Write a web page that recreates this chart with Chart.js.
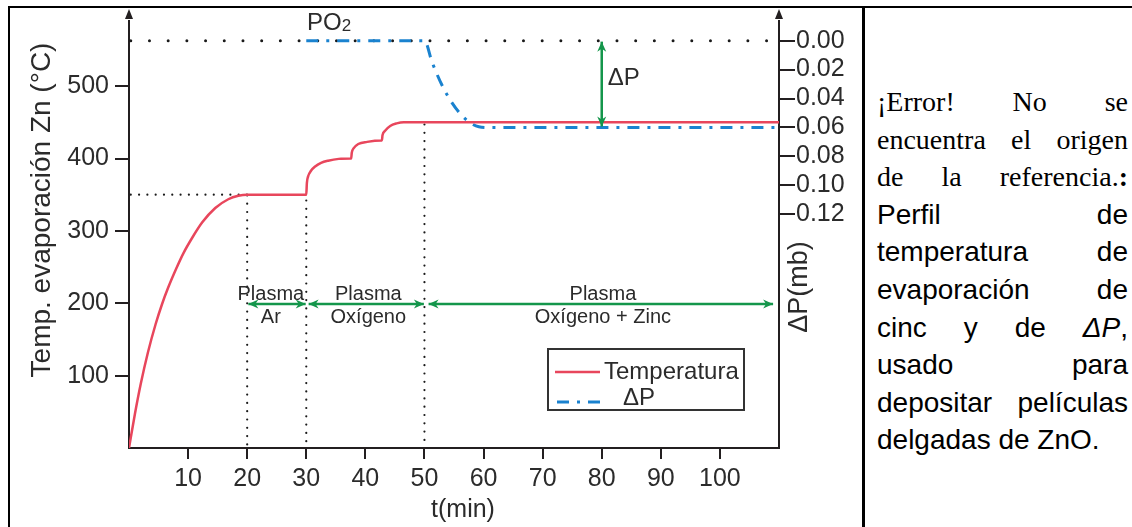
<!DOCTYPE html>
<html>
<head>
<meta charset="utf-8">
<script src="https://cdn.jsdelivr.net/npm/chart.js@4.4.1/dist/chart.umd.min.js"></script>
<style>
  body { margin: 0; background: #fff; }
  #wrap { position: relative; width: 1132px; height: 527px; overflow: hidden; background: #fff; }
  #c { position: absolute; left: 0; top: 0; }
  .rule { position: absolute; background: #000; }
  #cap { position: absolute; left: 877px; top: 83px; width: 251px; font-size: 28px; line-height: 37.6px; color: #000; }
  #cap .j { text-align: justify; text-align-last: justify; white-space: nowrap; }
  #cap .serif { font-family: "Liberation Serif", "Times New Roman", serif; }
  #cap .sans { font-family: "Liberation Sans", Arial, sans-serif; }
</style>
</head>
<body>
<div id="wrap">
  <canvas id="c" width="862" height="527"></canvas>
  <div class="rule" style="left:8px; top:6px; width:1124px; height:2px;"></div>
  <div class="rule" style="left:8px; top:6px; width:2px; height:521px;"></div>
  <div class="rule" style="left:862px; top:6px; width:2.5px; height:521px;"></div>
  <div id="cap">
    <div class="j serif">¡Error! No se</div>
    <div class="j serif">encuentra el origen</div>
    <div class="j serif">de la referencia.<b>:</b></div>
    <div class="j sans">Perfil de</div>
    <div class="j sans">temperatura de</div>
    <div class="j sans">evaporación de</div>
    <div class="j sans">cinc y de <i>ΔP</i>,</div>
    <div class="j sans">usado para</div>
    <div class="j sans">depositar películas</div>
    <div class="sans">delgadas de ZnO.</div>
  </div>
</div>
<script>
// temperatura del evaporador de Zn (°C) vs t (min)
const tempTime  = [0, 1, 2, 3.2, 4.5, 5.6, 6.6, 8, 9.2, 10.7, 12.4, 14.6, 16.8, 18.5, 20, 30,
                   30.1, 30.3, 30.8, 31.5, 32.5, 33.7, 35.5, 37.5, 37.6, 37.7, 38.0, 38.8, 40.3, 42.7,
                   42.8, 42.9, 43.3, 44.2, 45.3, 46.5, 110];
const tempValue = [0, 47, 89, 132, 171, 199, 221, 248, 269, 290.5, 311.8, 331.6, 343.7, 348.5, 350, 350,
                   366, 375, 383, 389, 394, 397, 399.5, 400, 400, 408, 414, 420, 423, 425,
                   425, 432, 438, 445, 448.5, 450, 450];
// ΔP (mb), eje derecho invertido
const dpTime  = [30, 50, 51.3, 53.5, 56.4, 59.2, 61, 110];
const dpValue = [0, 0, 0.015, 0.035, 0.052, 0.0595, 0.06, 0.06];

const xTicks    = [10, 20, 30, 40, 50, 60, 70, 80, 90, 100];
const tempTicks = [100, 200, 300, 400, 500];
const dpTicks   = [0, 0.02, 0.04, 0.06, 0.08, 0.10, 0.12];

// etapas del proceso
const phaseStart = [20.2, 30.4, 50.7];
const phaseEnd   = [29.9, 49.9, 109];
const phaseTop   = ['Plasma', 'Plasma', 'Plasma'];
const phaseBot   = ['Ar', 'Oxígeno', 'Oxígeno + Zinc'];
const phaseMid   = [24, 40.5, 80.2];

const RED = '#e8465c', BLUE = '#1a82cf', GREEN = '#14964b', AX = '#231f20', TXT = '#2b2b2b';
const SANS = '"Liberation Sans", Arial, sans-serif';
const DASH = [12, 8, 3, 8];

Chart.defaults.font.family = SANS;

function seg(ctx, x1, y1, x2, y2) {
  ctx.beginPath(); ctx.moveTo(x1, y1); ctx.lineTo(x2, y2); ctx.stroke();
}

function head(ctx, x, y, ang, len, w) {
  ctx.save();
  ctx.translate(x, y); ctx.rotate(ang);
  ctx.beginPath();
  ctx.moveTo(0, 0); ctx.lineTo(-len, -w); ctx.lineTo(-len * 0.7, 0); ctx.lineTo(-len, w);
  ctx.closePath(); ctx.fill();
  ctx.restore();
}

function doubleArrow(ctx, x1, y1, x2, y2) {
  const ang = Math.atan2(y2 - y1, x2 - x1);
  seg(ctx, x1, y1, x2, y2);
  head(ctx, x2, y2, ang, 10, 4.5);
  head(ctx, x1, y1, ang + Math.PI, 10, 4.5);
}

const guides = {
  id: 'guides',
  beforeDatasetsDraw(chart) {
    const { ctx, scales: { x, y, y2 } } = chart;
    ctx.save();
    ctx.strokeStyle = '#1a1a1a';
    ctx.lineCap = 'round';
    // nivel PO2 (ΔP = 0)
    ctx.lineWidth = 3;
    ctx.setLineDash([0, 18.7]);
    seg(ctx, x.getPixelForValue(0.3), y2.getPixelForValue(0), x.right - 8, y2.getPixelForValue(0));
    // líneas finas de referencia
    ctx.lineWidth = 2.2;
    ctx.setLineDash([0, 8.3]);
    seg(ctx, x.getPixelForValue(0.3), y.getPixelForValue(350), x.getPixelForValue(20), y.getPixelForValue(350));
    seg(ctx, x.getPixelForValue(20), y.getPixelForValue(349), x.getPixelForValue(20), y.getPixelForValue(0));
    seg(ctx, x.getPixelForValue(30), y.getPixelForValue(342), x.getPixelForValue(30), y.getPixelForValue(0));
    seg(ctx, x.getPixelForValue(50), y.getPixelForValue(447), x.getPixelForValue(50), y.getPixelForValue(0));
    ctx.restore();
  },
  afterDatasetsDraw(chart) {
    const { ctx, chartArea: a, scales: { x, y, y2 } } = chart;
    ctx.save();
    // flechas de los ejes
    ctx.fillStyle = AX;
    [a.left, a.right].forEach(px => {
      ctx.beginPath();
      ctx.moveTo(px, 9); ctx.lineTo(px - 4, 19); ctx.lineTo(px + 4, 19); ctx.closePath(); ctx.fill();
    });

    // etapas de plasma
    ctx.strokeStyle = GREEN; ctx.fillStyle = GREEN; ctx.lineWidth = 2.5;
    const ay = y.getPixelForValue(199);
    phaseStart.forEach((s, i) => doubleArrow(ctx, x.getPixelForValue(s), ay, x.getPixelForValue(phaseEnd[i]), ay));
    ctx.fillStyle = TXT;
    ctx.font = '20px ' + SANS;
    ctx.textAlign = 'center';
    ctx.textBaseline = 'alphabetic';
    phaseMid.forEach((m, i) => {
      const px = x.getPixelForValue(m);
      ctx.fillText(phaseTop[i], px, ay - 4);
      ctx.fillText(phaseBot[i], px, ay + 19);
    });

    // ΔP vertical
    ctx.strokeStyle = GREEN; ctx.fillStyle = GREEN; ctx.lineWidth = 2.5;
    const vx = x.getPixelForValue(80);
    doubleArrow(ctx, vx, y2.getPixelForValue(0) + 1, vx, y2.getPixelForValue(0.06) - 1);
    ctx.fillStyle = TXT;
    ctx.textAlign = 'left';
    ctx.font = '24px ' + SANS;
    ctx.fillText('ΔP', vx + 6, 85);

    // PO2
    ctx.font = '24px ' + SANS;
    ctx.fillText('PO', 307, 30);
    const w = ctx.measureText('PO').width;
    ctx.font = '17px ' + SANS;
    ctx.fillText('2', 307 + w, 31);

    // leyenda
    ctx.strokeStyle = '#333'; ctx.lineWidth = 2;
    ctx.strokeRect(548, 349, 196, 61);
    ctx.strokeStyle = RED; ctx.lineWidth = 2.5;
    seg(ctx, 555, 372, 600, 372);
    ctx.strokeStyle = BLUE; ctx.lineWidth = 3;
    ctx.setLineDash(DASH);
    seg(ctx, 557, 402, 601, 402);
    ctx.setLineDash([]);
    ctx.fillStyle = TXT;
    ctx.font = '24px ' + SANS;
    ctx.textBaseline = 'middle';
    ctx.fillText(chart.data.datasets[0].label, 604, 372);
    ctx.fillText(chart.data.datasets[1].label, 623, 398);

    // títulos de ejes
    ctx.textAlign = 'center';
    ctx.font = '28px ' + SANS;
    ctx.save(); ctx.translate(42, 210); ctx.rotate(-Math.PI / 2);
    ctx.fillText('Temp. evaporación Zn (°C)', 0, 0); ctx.restore();
    ctx.save(); ctx.translate(800, 287); ctx.rotate(-Math.PI / 2);
    ctx.font = '27px ' + SANS;
    ctx.fillText('ΔP(mb)', 0, 0); ctx.restore();
    ctx.font = '25px ' + SANS;
    ctx.fillText('t(min)', 463, 510);
    ctx.restore();
  }
};

const axisGrid = { drawOnChartArea: false, drawTicks: true, color: AX, lineWidth: 2 };

new Chart(document.getElementById('c'), {
  type: 'line',
  data: {
    datasets: [
      { label: 'Temperatura', yAxisID: 'y', data: tempTime.map((t, i) => ({ x: t, y: tempValue[i] })),
        borderColor: RED, borderWidth: 2.5, pointRadius: 0, cubicInterpolationMode: 'monotone', fill: false },
      { label: 'ΔP', yAxisID: 'y2', data: dpTime.map((t, i) => ({ x: t, y: dpValue[i] })),
        borderColor: BLUE, borderWidth: 3, borderDash: DASH, pointRadius: 0, cubicInterpolationMode: 'monotone', fill: false }
    ]
  },
  options: {
    responsive: false,
    animation: false,
    layout: { padding: { top: 13, left: 0, right: 0, bottom: 0 } },
    plugins: { legend: { display: false }, tooltip: { enabled: false } },
    scales: {
      x: {
        type: 'linear', min: 0, max: 110, position: 'bottom',
        afterFit(s) { s.height = 79; },
        afterBuildTicks(s) { s.ticks = xTicks.map(v => ({ value: v })); },
        grid: { ...axisGrid, tickLength: 11 },
        border: { display: true, color: AX, width: 2 },
        ticks: { color: TXT, font: { size: 25 }, padding: 5, autoSkip: false, maxRotation: 0 }
      },
      y: {
        type: 'linear', min: 0, max: 590, position: 'left',
        afterFit(s) { s.width = 129; },
        afterBuildTicks(s) { s.ticks = tempTicks.map(v => ({ value: v })); },
        grid: { ...axisGrid, tickLength: 14 },
        border: { display: true, color: AX, width: 2 },
        ticks: { color: TXT, font: { size: 25 }, padding: 6 }
      },
      y2: {
        type: 'linear', min: -0.01356, max: 0.2814, reverse: true, position: 'right',
        afterFit(s) { s.width = 83; },
        afterBuildTicks(s) { s.ticks = dpTicks.map(v => ({ value: v })); },
        grid: { ...axisGrid, tickLength: 16 },
        border: { display: true, color: AX, width: 2 },
        ticks: { color: TXT, font: { size: 25 }, padding: 1, callback: v => v.toFixed(2) }
      }
    }
  },
  plugins: [guides]
});
</script>
</body>
</html>
